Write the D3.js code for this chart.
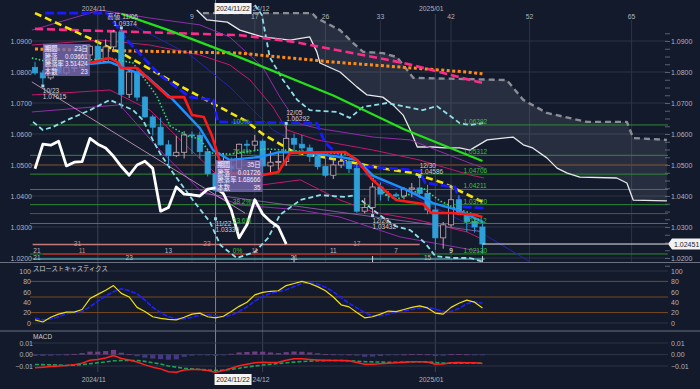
<!DOCTYPE html>
<meta charset="utf-8">
<style>
body,html{margin:0;padding:0;background:#131a2b;overflow:hidden;}
text{font-family:"Liberation Sans","Noto Sans CJK JP",sans-serif;}
</style>
<svg width="700" height="389"></svg>
<script src="https://d3js.org/d3.v7.min.js"></script>
<script>

// ---------- data ----------
var dates = ["10/22","10/23","10/24","10/25","10/28","10/29","10/30","10/31","11/01","11/04","11/05","11/06","11/07","11/08","11/11","11/12","11/13","11/14","11/15","11/18","11/19","11/20","11/21","11/22","11/25","11/26","11/27","11/28","11/29","12/02","12/03","12/04","12/05","12/06","12/09","12/10","12/11","12/12","12/13","12/16","12/17","12/18","12/19","12/20","12/23","12/24","12/25","12/26","12/27","12/30","12/31","01/02","01/03","01/06","01/07","01/08","01/09","01/10"];
var opens  = [1.0815,1.0797,1.0781,1.0826,1.0797,1.0815,1.0815,1.0855,1.0883,1.0834,1.0881,1.0929,1.0728,1.0800,1.0719,1.0655,1.0622,1.0565,1.0530,1.0541,1.0597,1.0596,1.0543,1.0472,1.0418,1.0495,1.0488,1.0567,1.0564,1.0577,1.0497,1.0509,1.0511,1.0586,1.0567,1.0555,1.0528,1.0495,1.0467,1.0500,1.0512,1.0489,1.0351,1.0363,1.0429,1.0406,1.0404,1.0400,1.0422,1.0426,1.0408,1.0355,1.0265,1.0307,1.0388,1.0342,1.0318,1.0300];
var highs  = [1.0833,1.0806,1.0830,1.0838,1.0820,1.0830,1.0870,1.0888,1.0905,1.0905,1.0936,1.09374,1.0805,1.0812,1.0722,1.0662,1.0653,1.0580,1.0594,1.0609,1.0608,1.0608,1.0551,1.0479,1.0539,1.0524,1.0569,1.0581,1.0597,1.0583,1.0545,1.0544,1.06292,1.0601,1.0597,1.0566,1.0540,1.0524,1.0524,1.0537,1.0526,1.0507,1.0394,1.0443,1.0444,1.0416,1.0411,1.0429,1.0442,1.04586,1.0436,1.0372,1.0316,1.0436,1.0403,1.0344,1.0332,1.0311];
var lows   = [1.0791,1.07615,1.0775,1.0794,1.0792,1.0800,1.0810,1.0830,1.0835,1.0830,1.0865,1.0682,1.0716,1.0707,1.0653,1.0595,1.0563,1.0497,1.0525,1.0521,1.0535,1.0521,1.0463,1.0333,1.0413,1.0458,1.0475,1.0538,1.0545,1.0460,1.0473,1.0477,1.0497,1.0540,1.0540,1.0510,1.0485,1.0460,1.0455,1.0490,1.0474,1.0346,1.0344,1.03432,1.0385,1.0384,1.0396,1.0389,1.0396,1.0395,1.0341,1.0226,1.0230,1.0300,1.0338,1.0284,1.0282,1.0214];
var closes = [1.0797,1.0781,1.0826,1.0797,1.0815,1.0815,1.0855,1.0883,1.0834,1.0881,1.0929,1.0728,1.0800,1.0719,1.0655,1.0622,1.0565,1.0530,1.0541,1.0597,1.0596,1.0543,1.0472,1.0418,1.0495,1.0488,1.0567,1.0564,1.0577,1.0497,1.0509,1.0511,1.0586,1.0567,1.0555,1.0528,1.0495,1.0467,1.0500,1.0512,1.0489,1.0351,1.0363,1.0429,1.0406,1.0404,1.0400,1.0422,1.0426,1.0408,1.0355,1.0265,1.0307,1.0388,1.0342,1.0318,1.0300,1.02451];

var stochK = [6,2,11,17,21,21,26,47,55,63,72,57,50,30,22,12,9,7,6,11,17,19,12,10,13,22,32,40,54,59,61,62,72,76,80,76,70,62,50,35,31,20,10,12,17,23,22,26,30,33,29,19,17,30,38,44,40,29];
var stochD = [9,6,8,12,18,20,22,31,42,52,60,66,62,56,44,30,20,12,8,8,11,15,16,14,12,15,22,31,42,51,57,60,64,70,76,77,75,69,60,49,38,29,20,14,14,17,21,23,26,29,30,27,22,22,28,37,41,38];

var macdLine = [-0.0115,-0.0110,-0.0104,-0.0100,-0.0096,-0.0088,-0.0075,-0.0050,-0.0043,-0.0030,-0.0009,-0.0035,-0.0048,-0.0065,-0.0090,-0.0110,-0.0125,-0.0150,-0.0155,-0.0135,-0.0130,-0.0130,-0.0140,-0.0155,-0.0140,-0.0120,-0.0098,-0.0085,-0.0072,-0.0068,-0.0070,-0.0068,-0.0050,-0.0037,-0.0038,-0.0043,-0.0047,-0.0050,-0.0052,-0.0052,-0.0055,-0.0070,-0.0085,-0.0085,-0.0080,-0.0076,-0.0072,-0.0068,-0.0063,-0.0062,-0.0065,-0.0085,-0.0082,-0.0072,-0.0070,-0.0072,-0.0072,-0.0078];
var macdSignal = [-0.0087,-0.0088,-0.0090,-0.0092,-0.0095,-0.0092,-0.0087,-0.0080,-0.0072,-0.0064,-0.0055,-0.0052,-0.0052,-0.0052,-0.0060,-0.0072,-0.0082,-0.0100,-0.0110,-0.0120,-0.0125,-0.0130,-0.0135,-0.0139,-0.0136,-0.0128,-0.0120,-0.0108,-0.0100,-0.0092,-0.0085,-0.0078,-0.0072,-0.0066,-0.0061,-0.0058,-0.0055,-0.0053,-0.0052,-0.0052,-0.0055,-0.0058,-0.0062,-0.0064,-0.0066,-0.0068,-0.0068,-0.0066,-0.0064,-0.0063,-0.0065,-0.0070,-0.0075,-0.0076,-0.0075,-0.0074,-0.0073,-0.0074];
var macdHist = [-0.0012,-0.0012,-0.0010,-0.0005,0.0000,0.0005,0.0012,0.0025,0.0025,0.0030,0.0040,0.0015,0.0002,-0.0015,-0.0028,-0.0035,-0.0040,-0.0045,-0.0042,-0.0020,-0.0010,-0.0005,-0.0008,-0.0012,-0.0005,0.0006,0.0018,0.0022,0.0026,0.0024,0.0018,0.0012,0.0020,0.0026,0.0024,0.0018,0.0010,0.0004,0.0001,-0.0001,0.0000,-0.0010,-0.0020,-0.0018,-0.0013,-0.0008,-0.0003,0.0000,0.0002,0.0002,0.0001,-0.0014,-0.0010,0.0002,0.0003,0.0001,-0.0002,-0.0005];

// overlay lines, [bar index, price]
var lineYellow = [[0,1.0990],[5,1.0932],[11,1.0861],[20,1.0734],[27,1.0640],[29,1.0600],[33,1.0542],[40,1.0510],[44,1.0490],[48,1.0475],[52,1.0442],[57,1.0381]];
var lineGreen  = [[11,1.0988],[17,1.0935],[26,1.0848],[38,1.0724],[47,1.0615],[57,1.0513]];
var linePink   = [[0,1.0939],[26,1.0919],[33,1.0897],[47,1.0829],[55,1.0777],[57,1.0765]];
var lineOrange = [[0,1.0874],[26,1.0861],[38,1.0832],[55,1.0800],[57,1.0794]];
var lineBlue   = [[1.3,1.0990],[9.2,1.0990],[11.7,1.0903],[15.9,1.0790],[19.75,1.0719],[22.7,1.0710],[23.3,1.0639],[35.9,1.0635],[36.9,1.0574],[38.85,1.0526],[40,1.0497],[46.5,1.0487],[49,1.0481],[49.7,1.0442],[53.5,1.0429],[54.4,1.0365],[57.2,1.0361]];
var lineRed    = [[7,1.0829],[9.5,1.0845],[10.5,1.0832],[11,1.0813],[13,1.0813],[17,1.0719],[19,1.0719],[20,1.0661],[21.5,1.0655],[22.5,1.0597],[23.5,1.0516],[24.5,1.0474],[29,1.0468],[31,1.0477],[32.5,1.0539],[39.5,1.0542],[41,1.0516],[43,1.0452],[46,1.0387],[49.5,1.0374],[50.5,1.0345],[53,1.0345],[56,1.0339],[57,1.0332]];
var lineSky    = [[6.75,1.0826],[9.55,1.0832],[10.8,1.0819],[14.3,1.0784],[17.6,1.0710],[21,1.0619],[22.7,1.0548],[24.8,1.0516],[28.7,1.0526],[31.2,1.0542],[35,1.0539],[38.85,1.0526],[41,1.0516],[43.1,1.0465],[47.4,1.0419],[50.7,1.0377],[53.8,1.0355],[57.1,1.0316]];
var lineGreenDot = [[-0.4,1.0845],[1.9,1.0832],[7,1.0839],[9.5,1.0845],[12.5,1.0829],[15.5,1.0723],[17.2,1.0626],[19.4,1.0594],[21,1.0584],[22.3,1.0539],[24.8,1.0535],[29.5,1.0552],[39.7,1.0535],[41,1.0519],[43.1,1.0455],[44.8,1.0400],[46.1,1.0390],[48.2,1.0410],[49.4,1.0426],[51.6,1.0384],[53.8,1.0358],[56.7,1.0335]];
var bandU3 = [[-0.4,1.0935],[8.3,1.1000],[14.65,1.0974],[21,1.0952],[24.8,1.0913],[29,1.0816],[31.2,1.0719],[33.4,1.0635],[35.9,1.0619],[43.1,1.0590],[47.8,1.0581],[55.4,1.0506],[57.2,1.0490]];
var bandU2 = [[-0.4,1.0887],[8.3,1.0903],[14.65,1.0887],[21,1.0855],[24.8,1.0823],[27.4,1.0774],[30.3,1.0687],[32.1,1.0613],[35.9,1.0581],[43.1,1.0548],[49,1.0516],[55.4,1.0468],[57.2,1.0458]];
var bandL1 = [[-0.4,1.0726],[9.55,1.0742],[14.65,1.0677],[18.5,1.0581],[23.2,1.0468],[28.7,1.0435],[33.8,1.0452],[38.85,1.0387],[43.1,1.0348],[48.7,1.0323],[55,1.0284],[57.2,1.0258]];
var bandL2 = [[-0.4,1.0671],[10.8,1.0694],[15.9,1.0548],[21,1.0419],[26.1,1.0371],[33.8,1.0355],[38.85,1.0332],[46.5,1.0268],[57.2,1.0219]];
var lineNavy = [[9.55,1.0990],[19.75,1.0855],[24.8,1.0752],[30.3,1.0613],[37.6,1.0516],[46.5,1.0419],[54.1,1.0323],[63.1,1.0187]];
var trendPink = [[-0.4,1.0768],[26.75,1.0345]];
var trendPurple = [[21,1.0410],[57.2,1.0284]];
var cyanLow = [[-0.25,1.0639],[1,1.0613],[2.3,1.0623],[4.1,1.0645],[7,1.0677],[9.55,1.0710],[10.45,1.0700],[12.5,1.0677],[13.75,1.0645],[15,1.0581],[15.9,1.0539],[17.6,1.0474],[20.1,1.0387],[22.3,1.0316],[23.6,1.0242],[25.7,1.0200],[28,1.0219],[29.7,1.0265],[31.2,1.0339],[33.8,1.0387],[36.3,1.0403],[39.5,1.0397],[40.8,1.0403],[42,1.0377],[43.9,1.0339],[45.9,1.0303],[47.8,1.0290],[49.7,1.0248],[51,1.0206],[53.5,1.0200],[55.4,1.0200],[57.2,1.0187]];
var cyanHigh = [[28,1.1016],[28.9,1.0984],[29.9,1.0848],[31.6,1.0774],[33.4,1.0710],[35,1.0677],[38.5,1.0671],[40.1,1.0652],[41.8,1.0687],[44.8,1.0700],[47.4,1.0687],[49.4,1.0677],[51.2,1.0690],[54.1,1.0635],[55.4,1.0629],[57.1,1.0635]];
var spanA = [[20.6,1.1000],[21.9,1.0968],[24.5,1.0961],[26.1,1.0935],[29,1.0913],[32.5,1.0903],[35,1.0913],[35.9,1.0865],[36.3,1.0829],[38.85,1.0800],[41,1.0752],[42.3,1.0726],[44.3,1.0719],[45.6,1.0694],[46.9,1.0661],[47.8,1.0613],[48.7,1.0558],[50.7,1.0558],[52.2,1.0555],[54.1,1.0555],[55.4,1.0548],[57.6,1.0581],[60.9,1.0590],[62.2,1.0565],[63.4,1.0555],[65.2,1.0523],[66.5,1.0490],[67.8,1.0474],[69.4,1.0461],[74.1,1.0458],[75.4,1.0442],[76.2,1.0387],[80.5,1.0384]];
var spanB = [[21.4,1.0990],[28.7,1.0990],[35.3,1.0990],[35.9,1.0974],[38.85,1.0935],[40.5,1.0894],[41.8,1.0865],[44.3,1.0861],[46.1,1.0848],[48.2,1.0781],[55.4,1.0777],[60.1,1.0774],[62.2,1.0710],[65.2,1.0668],[70.3,1.0639],[75.4,1.0639],[76.2,1.0587],[80.5,1.0581]];
var chikouShift = 25;

var priceTicks = [1.02,1.03,1.04,1.05,1.06,1.07,1.08,1.09];
var stochTicks = [0,20,40,60,80,100];
var stochLevels = [20,50,80];
var macdTicks = [-0.01,0,0.01];

var fibPrices = [1.02130,1.03112,1.03720,1.04211,1.04706,1.05312,1.06292];
var fibPcts = ["0%","23.6%","38.2%","50.0%","61.8%","76.4%","100%"];
var pivotPrices = [1.0500,1.03432];

var cycleBase = 11;
var cycleCounts = [9,17,26,33,42,52,65];
var dateTickIdx = [8,29,51];
var dateTickText = ["2024/11","2024/12","2025/01"];
var crossIdx = 23, crossText = "2024/11/22";

var markIdx = [11,1,23,32,43,49];
var markPrice = [1.09374,1.07615,1.03330,1.06292,1.03432,1.04586];
var markText = ["高値 11/06","10/23","11/22","12/05","12/20","12/30"];
var markHigh = [true,false,false,true,false,true];

var tipIdx = [1,23];
var tipTop = [44,160];
var tipLabels = ["期間","騰落","騰落率","本数"];
var tipValues = [["23日","0.03661","3.51424","23"],["35日","0.01726","1.68666","35"]];

var rowAIdx = [5.4,21.9,41], rowAText = ["31","23","17"];
var rowBIdx = [0.25,6,17,28,38,46,53], rowBText = ["21","11","13","11","11","7","9"];
var rowCIdx = [0.25,12,33,50], rowCText = ["21","23","21","15"];

// ---------- setup ----------
var bg = "#131a2b", gridCol = "#2c3345", txtCol = "#aeb3bf";
var svg = d3.select("svg");
svg.append("rect").attr("width",700).attr("height",389).attr("fill",bg);

var n = dates.length;
var x = d3.scaleLinear().domain([0,n-1]).range([35,35+7.85*(n-1)]);
var y = d3.scaleLinear().domain([1.02,1.09]).range([258,41]);
var ys = d3.scaleLinear().domain([0,100]).range([323,271]);
var ym = d3.scaleLinear().domain([-0.01,0.01]).range([366,343]);
var L = 30, R = 668;
var tipW = 47, tipH = 32;

svg.append("clipPath").attr("id","mc").append("rect").attr("x",L).attr("y",3).attr("width",R-L).attr("height",259);

function pathOf(data, sc) {
  return d3.line().x(function(d){return x(d[0]);}).y(function(d){return sc(d[1]);})(data);
}
function draw(g, data, col, w, dash, sc) {
  return g.append("path").attr("d", pathOf(data, sc || y))
    .attr("fill","none").attr("stroke",col).attr("stroke-width",w)
    .attr("stroke-dasharray",dash || null).attr("stroke-linejoin","round");
}

// grid (main)
var grid = svg.append("g");
grid.selectAll("line.h").data(priceTicks).join("line")
  .attr("x1",L).attr("x2",R).attr("y1",d=>y(d)).attr("y2",d=>y(d)).attr("stroke",gridCol);
grid.selectAll("line.c").data(cycleCounts).join("line")
  .attr("x1",d=>x(cycleBase+d)).attr("x2",d=>x(cycleBase+d)).attr("y1",20).attr("y2",262).attr("stroke",gridCol);
grid.selectAll("line.d").data(dateTickIdx).join("line")
  .attr("x1",d=>x(d)).attr("x2",d=>x(d)).attr("y1",14).attr("y2",372).attr("stroke","#3a4256");
grid.append("line").attr("x1",x(crossIdx)).attr("x2",x(crossIdx)).attr("y1",0).attr("y2",372).attr("stroke","#7d8495");

// axes main
var axR = svg.append("g").attr("transform","translate(671,0)")
  .call(d3.axisRight(y).tickValues(priceTicks).tickFormat(d3.format(".4f")).tickSize(0).tickPadding(0));
var axL = svg.append("g").attr("transform","translate(32,0)")
  .call(d3.axisLeft(y).tickValues(priceTicks).tickFormat(d3.format(".4f")).tickSize(0).tickPadding(0));
var minor = svg.append("g").attr("transform","translate(665,0)")
  .call(d3.axisRight(y).tickValues(d3.range(1.0175,1.0926,0.0025)).tickSize(5).tickFormat(""));
[axR,axL,minor].forEach(function(a){
  a.select(".domain").remove();
  a.selectAll("text").attr("fill",txtCol).style("font-size","7px").style("font-family","Liberation Sans");
  a.selectAll("line").attr("stroke","#5a6070");
});

var main = svg.append("g").attr("clip-path","url(#mc)");

// cloud
var cloudPts = spanA.concat(spanB.slice().reverse());
main.append("path").attr("d", pathOf(cloudPts, y) + "Z").attr("fill","#c0c6d2").attr("opacity",0.12);

// fib & pivot lines
main.selectAll("line.f").data(fibPrices).join("line")
  .attr("x1",L).attr("x2",R).attr("y1",d=>y(d)).attr("y2",d=>y(d)).attr("stroke","#2f8a34");
main.selectAll("line.p").data(pivotPrices).join("line")
  .attr("x1",L).attr("x2",R).attr("y1",d=>y(d)).attr("y2",d=>y(d)).attr("stroke","#7a4a22");

// count bands
var bands = main.append("g");
bands.append("line").attr("x1",x(-0.3)).attr("x2",x(49)).attr("y1",244.5).attr("y2",244.5).attr("stroke","#c47a7a").attr("stroke-width",1.5);
bands.append("line").attr("x1",x(1)).attr("x2",x(49)).attr("y1",254).attr("y2",254).attr("stroke","#b02525").attr("stroke-width",1.5);
bands.append("line").attr("x1",x(-0.3)).attr("x2",x(57.3)).attr("y1",259).attr("y2",259).attr("stroke","#4f9aa6").attr("stroke-width",1.5);
bands.selectAll("line.t").data([33,43,57]).join("line").attr("x1",d=>x(d)).attr("x2",d=>x(d)).attr("y1",256).attr("y2",262).attr("stroke","#cfd3da");

// ichimoku spans
draw(main, spanB, "#8a8d94", 2.4, "6,4");
draw(main, spanA, "#e8e8ea", 1.3);

// bands / trend
draw(main, bandU3, "#8e2ea8", 1);
draw(main, bandL2, "#8e2ea8", 1);
draw(main, bandU2, "#c2186e", 1);
draw(main, bandL1, "#c2186e", 1);
draw(main, lineNavy, "#2424b0", 1);
draw(main, trendPink, "#d6a4cc", 0.8);
draw(main, trendPurple, "#9a6ab8", 0.8);
draw(main, cyanLow, "#8fdde6", 1.8, "5,3");
draw(main, cyanHigh, "#8fdde6", 1.8, "5,3");

// moving lines
draw(main, lineOrange, "#ff8c1a", 3, "3,2.5");
draw(main, linePink, "#ff2a8a", 2.6, "8,4");
draw(main, lineGreen, "#25e01a", 2.2);
draw(main, lineYellow, "#f5e60a", 2.6, "7,4");
draw(main, lineBlue, "#1a1aff", 2.8, "9,3");

// candles
var candles = dates.map(function(d,i){ return {i:i, o:opens[i], h:highs[i], l:lows[i], c:closes[i]}; });
var upCol = "#c8a8b4", dnCol = "#2e9fd8";
var cg = main.append("g");
cg.selectAll("line").data(candles).join("line")
  .attr("x1",d=>x(d.i)).attr("x2",d=>x(d.i)).attr("y1",d=>y(d.h)).attr("y2",d=>y(d.l))
  .attr("stroke",d=>d.c>=d.o?upCol:dnCol).attr("stroke-width",1);
cg.selectAll("rect").data(candles).join("rect")
  .attr("x",d=>x(d.i)-2.6).attr("width",5.2)
  .attr("y",d=>y(Math.max(d.o,d.c))).attr("height",d=>Math.max(1,Math.abs(y(d.o)-y(d.c))))
  .attr("fill",d=>d.c>=d.o?bg:dnCol).attr("stroke",d=>d.c>=d.o?upCol:dnCol).attr("stroke-width",0.8);

draw(main, lineGreenDot, "#2ee07a", 1.6, "1.5,2");
draw(main, lineSky, "#1e8fff", 2.4);
draw(main, lineRed, "#ff1a1a", 2.6);

// lagging span from closes
var chikou = closes.map(function(c,i){ return [i-chikouShift, c]; }).filter(d=>d[0]>=0);
draw(main, chikou, "#ffffff", 2.8);

// current price line
var last = closes[n-1];
main.append("line").attr("x1",x(n-1)).attr("x2",R).attr("y1",y(last)).attr("y2",y(last)).attr("stroke","#e8e8e8");

// fib labels (percent labels hidden where a tooltip box sits over them)
function underTip(px, py) {
  return tipIdx.some(function(ti,k){
    return px > x(ti) - 4 && px < x(ti) + tipW && py > tipTop[k] && py < tipTop[k] + tipH + 4;
  });
}
var fl = svg.append("g").style("font-size","6.5px").attr("fill","#3fc23f");
fl.selectAll("text.a").data(fibPrices.filter(d=>!underTip(x(25.2), y(d)))).join("text")
  .attr("x",x(25.2)).attr("y",d=>y(d)-1).text(d=>fibPcts[fibPrices.indexOf(d)]);
fl.selectAll("text.b").data(fibPrices).join("text").attr("x",x(54.6)).attr("y",d=>y(d)-1).text(d=>d3.format(".5f")(d));

// count band labels
var bl = svg.append("g").style("font-size","6.5px").attr("text-anchor","middle");
bl.selectAll("text.a").data(rowAIdx).join("text").attr("x",d=>x(d)).attr("y",246).attr("fill","#d08a82").text((d,i)=>rowAText[i]);
bl.selectAll("text.b").data(rowBIdx).join("text").attr("x",d=>x(d)).attr("y",252.5)
  .attr("fill",(d,i)=>(i===1||i===3)?"#d08a82":(i===6?"#ffffff":"#b8bcc6")).text((d,i)=>rowBText[i]);
bl.selectAll("text.c").data(rowCIdx).join("text").attr("x",d=>x(d)).attr("y",260).attr("fill","#b8bcc6").text((d,i)=>rowCText[i]);

// high/low markers
var mk = svg.append("g").style("font-size","6.5px").attr("fill","#d8c8cc");
markIdx.forEach(function(mi,k){
  var px = x(mi), py = y(markPrice[k]);
  mk.append("rect").attr("x",px-1.5).attr("y",markHigh[k]?py-3:py+0.5).attr("width",3).attr("height",3).attr("fill","#9fd6ee");
  var t1 = markHigh[k] ? py-10 : py+9, t2 = markHigh[k] ? py-3.5 : py+15.5;
  var off = k===0 ? -14 : 0;
  mk.append("text").attr("x",px+off).attr("y",t1).text(markText[k]);
  mk.append("text").attr("x",px+(k===0?-8:0)).attr("y",t2).text(d3.format(".5f")(markPrice[k]));
});

// tooltip boxes
tipIdx.forEach(function(ti,k){
  var bx = x(ti), by = tipTop[k];
  var g = svg.append("g");
  g.append("rect").attr("x",bx).attr("y",by).attr("width",tipW).attr("height",tipH).attr("fill","#7a6cb4").attr("opacity",0.78);
  g.append("rect").attr("x",bx+1).attr("y",by+1).attr("width",13).attr("height",7).attr("fill","#a79ad6").attr("opacity",0.6);
  tipLabels.forEach(function(lb,r){
    g.append("text").attr("x",bx+2).attr("y",by+7+r*7.6).style("font-size","6.3px").attr("fill","#f0ecff").text(lb);
    g.append("text").attr("x",bx+45).attr("y",by+7+r*7.6).attr("text-anchor","end").style("font-size","6.3px").attr("fill","#f0ecff").text(tipValues[k][r]);
  });
});

// current price tag
var tag = svg.append("g");
var ty = y(last);
tag.append("path").attr("d","M668,"+ty+" L672,"+(ty-5.5)+" L700,"+(ty-5.5)+" L700,"+(ty+5.5)+" L672,"+(ty+5.5)+"Z").attr("fill","#f2f2f2");
tag.append("text").attr("x",674).attr("y",ty+2.5).style("font-size","7px").attr("fill","#222").text(d3.format(".5f")(last));

// top & bottom date labels, cycle labels
var tl = svg.append("g").style("font-size","6.8px").attr("fill",txtCol).attr("text-anchor","middle");
tl.selectAll("text.c").data(cycleCounts).join("text").attr("x",d=>x(cycleBase+d)).attr("y",19).text(d=>d);
var boxL = x(crossIdx) - 1, boxR = boxL + 37;
[11,382].forEach(function(ly){
  dateTickIdx.forEach(function(di,k){
    var cx = x(di) - 4, half = 12;
    if (cx - half < boxR && cx + half > boxL) {
      // partly under the crosshair date box: only the tail shows
      tl.append("text").attr("x",boxR+1).attr("y",ly).attr("text-anchor","start").text(dateTickText[k].slice(2));
    } else {
      tl.append("text").attr("x",cx).attr("y",ly).text(dateTickText[k]);
    }
  });
  tl.append("rect").attr("x",boxL).attr("y",ly-8).attr("width",37).attr("height",11).attr("fill","#f4f4f4");
  tl.append("text").attr("x",boxL+18.5).attr("y",ly).attr("fill","#1a1a1a").text(crossText);
});

// pane separators
svg.append("line").attr("x1",0).attr("x2",700).attr("y1",262.5).attr("y2",262.5).attr("stroke","#6b7180").attr("stroke-width",1.2);
svg.append("line").attr("x1",0).attr("x2",700).attr("y1",331).attr("y2",331).attr("stroke","#6b7180").attr("stroke-width",1.2);

// ---------- stochastics ----------
var sp = svg.append("g");
sp.selectAll("line.g").data([0,100]).join("line").attr("x1",L).attr("x2",R).attr("y1",d=>ys(d)).attr("y2",d=>ys(d)).attr("stroke",gridCol);
sp.selectAll("line.l").data(stochLevels).join("line").attr("x1",L).attr("x2",R).attr("y1",d=>ys(d)).attr("y2",d=>ys(d)).attr("stroke","#7a4a20");
var sR = sp.append("g").attr("transform","translate(671,0)").call(d3.axisRight(ys).tickValues(stochTicks).tickSize(0).tickPadding(0));
var sL = sp.append("g").attr("transform","translate(31,0)").call(d3.axisLeft(ys).tickValues(stochTicks).tickSize(0).tickPadding(0));
[sR,sL].forEach(function(a){ a.select(".domain").remove(); a.selectAll("text").attr("fill",txtCol).style("font-size","7px").style("font-family","Liberation Sans"); });
sp.append("text").attr("x",33).attr("y",271).style("font-size","6.3px").attr("fill","#c8ccd4").text("スローストキャスティクス");
var kPts = stochK.map((v,i)=>[i,v]), dPts = stochD.map((v,i)=>[i,v]);
draw(sp, dPts, "#2020ff", 1.6, "5,1.5", ys);
draw(sp, kPts, "#f0e010", 1.2, null, ys);

// ---------- MACD ----------
var mp = svg.append("g");
mp.selectAll("line.g").data(macdTicks).join("line").attr("x1",L).attr("x2",R).attr("y1",d=>ym(d)).attr("y2",d=>ym(d)).attr("stroke",gridCol);
var fm = function(d){ return d3.format(".2f")(d); };
var mR = mp.append("g").attr("transform","translate(671,0)").call(d3.axisRight(ym).tickValues(macdTicks).tickFormat(fm).tickSize(0).tickPadding(0));
var mL = mp.append("g").attr("transform","translate(33,0)").call(d3.axisLeft(ym).tickValues(macdTicks).tickFormat(fm).tickSize(0).tickPadding(0));
[mR,mL].forEach(function(a){ a.select(".domain").remove(); a.selectAll("text").attr("fill",txtCol).style("font-size","7px").style("font-family","Liberation Sans"); });
mp.append("text").attr("x",33).attr("y",339).style("font-size","6.5px").attr("fill","#c8ccd4").text("MACD");
mp.selectAll("rect").data(macdHist).join("rect")
  .attr("x",(d,i)=>x(i)-2.6).attr("width",5.2)
  .attr("y",d=>ym(Math.max(0,d))).attr("height",d=>Math.max(0.8,Math.abs(ym(d)-ym(0))))
  .attr("fill",d=>d>=0?"#7d3f8e":"#4a3c8c").attr("opacity",0.9);
draw(mp, macdSignal.map((v,i)=>[i,v]), "#1fa055", 1.6, "4,2", ym);
draw(mp, macdLine.map((v,i)=>[i,v]), "#ff2020", 1.5, null, ym);

</script>
